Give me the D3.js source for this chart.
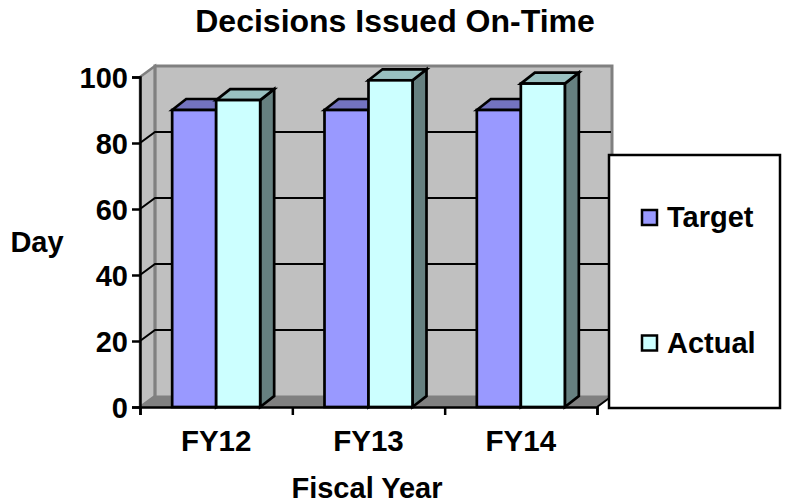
<!DOCTYPE html>
<html>
<head>
<meta charset="utf-8">
<script src="https://cdn.jsdelivr.net/npm/d3@7/dist/d3.min.js"></script>
<style>
html,body{margin:0;padding:0;background:#fff}
svg{display:block}
text{font-family:"Liberation Sans",Arial,sans-serif;font-weight:700;fill:#000}
</style>
</head>
<body>
<svg id="chart" width="787" height="504"></svg>
<script>
const categories = ["FY12", "FY13", "FY14"];
const seriesNames = ["Target", "Actual"];
const target = [90, 90, 90];
const actual = [93, 99, 98];
const yTicks = [0, 20, 40, 60, 80, 100];
const fills = {
  Target: {front: "#9999ff", top: "#7373c0", side: "#4d4d80"},
  Actual: {front: "#ccffff", top: "#99c0c0", side: "#668080"}
};

const svg = d3.select("#chart");
const plot = {left: 140, right: 597, top: 77, bottom: 407};
const depth = {x: 15, y: 11};
const barW = 44;

const y = d3.scaleLinear().domain([0, 100]).range([plot.bottom, plot.top]);
const x = d3.scaleBand().domain(categories).range([plot.left, plot.right]);

// Back wall, side wall and floor of the 3D box
const back = {l: plot.left + depth.x, r: plot.right + depth.x, t: plot.top - depth.y, b: plot.bottom - depth.y};
svg.append("rect").attr("x", back.l).attr("y", back.t).attr("width", back.r - back.l).attr("height", back.b - back.t)
  .attr("fill", "#c0c0c0");
svg.append("path")
  .attr("d", `M${plot.left},${plot.top}L${back.l},${back.t}L${back.l},${back.b}L${plot.left},${plot.bottom}Z`)
  .attr("fill", "#c0c0c0").attr("stroke", "#808080").attr("stroke-width", 2.5);
svg.append("path")
  .attr("d", `M${plot.left},${plot.bottom}L${back.l},${back.b}L${back.r},${back.b}L${plot.right},${plot.bottom}Z`)
  .attr("fill", "#808080").attr("stroke", "#808080").attr("stroke-width", 1);
svg.append("path")
  .attr("d", `M${back.l},${back.b}V${back.t}H${back.r}V${back.b}`)
  .attr("fill", "none").attr("stroke", "#808080").attr("stroke-width", 3);

// Gridlines run along the side wall and across the back wall
svg.append("g").selectAll("path").data(yTicks.filter(d => d > 0 && d < 100)).join("path")
  .attr("d", d => `M${plot.left},${y(d)}L${back.l},${y(d) - depth.y}H${back.r - 1}`)
  .attr("fill", "none").attr("stroke", "#000").attr("stroke-width", 2);

// Front edge of the floor on the right-hand side
svg.append("line").attr("x1", plot.right).attr("y1", plot.bottom).attr("x2", back.r).attr("y2", back.b)
  .attr("stroke", "#000").attr("stroke-width", 2);

// Bars, one pair per fiscal year
const rows = categories.flatMap((c, i) => [
  {cat: c, s: "Target", v: target[i], off: 0},
  {cat: c, s: "Actual", v: actual[i], off: 1}
]);
const bars = svg.append("g").selectAll("g").data(rows).join("g")
  .attr("stroke", "#000").attr("stroke-width", 2.7).attr("stroke-linejoin", "miter");
const bx = d => x(d.cat) + (x.bandwidth() - 2 * barW) / 2 + d.off * barW;
bars.append("path").attr("fill", d => fills[d.s].side)
  .attr("d", d => {
    const r = bx(d) + barW, t = y(d.v);
    return `M${r},${plot.bottom}L${r + depth.x - 1},${plot.bottom - depth.y}V${t - depth.y}L${r},${t}Z`;
  });
bars.append("path").attr("fill", d => fills[d.s].top)
  .attr("d", d => {
    const l = bx(d), r = l + barW, t = y(d.v);
    return `M${l},${t}L${l + depth.x - 1},${t - depth.y}H${r + depth.x - 1}L${r},${t}Z`;
  });
bars.append("rect").attr("fill", d => fills[d.s].front)
  .attr("x", bx).attr("y", d => y(d.v)).attr("width", barW).attr("height", d => plot.bottom - y(d.v));

// Axes
const yAxis = d3.axisLeft(y).tickValues(yTicks).tickSize(8).tickPadding(4);
const gy = svg.append("g").attr("transform", `translate(${plot.left},0)`).call(yAxis);
const xEdges = d3.scaleLinear().domain([0, categories.length]).range([plot.left, plot.right]);
const xAxis = d3.axisBottom(xEdges).tickValues(d3.range(categories.length + 1)).tickSize(8).tickFormat("");
const gx = svg.append("g").attr("transform", `translate(0,${plot.bottom})`).call(xAxis);
[gy, gx].forEach(g => {
  g.selectAll("path,line").attr("stroke", "#000").attr("stroke-width", 2.5);
  g.select(".domain").attr("fill", "none");
});
gy.selectAll("text").style("font-size", "29px").attr("fill", "#000").attr("dy", "0.36em");

svg.append("g").selectAll("text").data(categories).join("text")
  .attr("x", d => x(d) + x.bandwidth() / 2).attr("y", 451)
  .attr("text-anchor", "middle").style("font-size", "29.5px").text(d => d);

// Titles
svg.append("text").attr("x", 395).attr("y", 32).attr("text-anchor", "middle").style("font-size", "32px").text("Decisions Issued On-Time");
svg.append("text").attr("x", 367).attr("y", 498).attr("text-anchor", "middle").style("font-size", "29px").text("Fiscal Year");
svg.append("text").attr("x", 37).attr("y", 252).attr("text-anchor", "middle").style("font-size", "29px").text("Day");

// Legend
svg.append("rect").attr("x", 609).attr("y", 155).attr("width", 171).attr("height", 253)
  .attr("fill", "#fff").attr("stroke", "#000").attr("stroke-width", 2.5);
const legend = svg.append("g").selectAll("g").data(seriesNames).join("g")
  .attr("transform", (d, i) => `translate(641,${[217.5, 343][i]})`);
legend.append("rect").attr("x", 1).attr("y", -7.5).attr("width", 15).attr("height", 15)
  .attr("fill", d => fills[d].front).attr("stroke", "#000").attr("stroke-width", 2.5);
legend.append("text").attr("x", 26).attr("y", 9.5).style("font-size", "29px").text(d => d);
</script>
</body>
</html>
